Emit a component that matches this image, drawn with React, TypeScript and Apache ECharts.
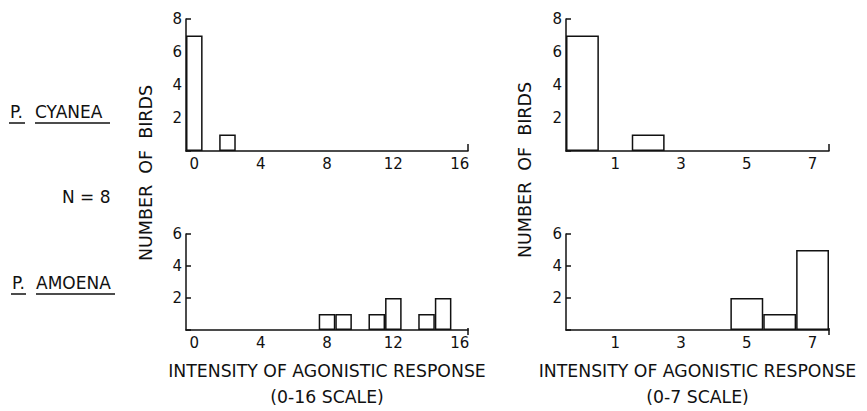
import React, { useEffect, useRef } from "react";
import * as echarts from "echarts";

// ---- data ----
const scale16 = [0, 1, 2, 3, 4, 5, 6, 7, 8, 9, 10, 11, 12, 13, 14, 15, 16];
const cyanea16 = [7, 0, 1, 0, 0, 0, 0, 0, 0, 0, 0, 0, 0, 0, 0, 0, 0];
const amoena16 = [0, 0, 0, 0, 0, 0, 0, 0, 1, 1, 0, 1, 2, 0, 1, 2, 0];
const labels16 = [0, 4, 8, 12, 16];

const scale7 = [0, 1, 2, 3, 4, 5, 6, 7];
const cyanea7 = [7, 0, 1, 0, 0, 0, 0, 0];
const amoena7 = [0, 0, 0, 0, 0, 2, 1, 5];
const labels7 = [1, 3, 5, 7];

const yMaxTop = 8;
const yMaxBottom = 6;
const yInterval = 2;

const xTitle16 = "INTENSITY OF AGONISTIC RESPONSE\n(0-16 SCALE)";
const xTitle7 = "INTENSITY OF AGONISTIC RESPONSE\n(0-7 SCALE)";
const yTitle = "NUMBER  OF  BIRDS";

const FONT = "DejaVu Sans";
const INK = "#111";

export default function App() {
  const ref = useRef<HTMLDivElement>(null);

  useEffect(() => {
    if (!ref.current) return;
    const chart = echarts.init(ref.current, undefined, { renderer: "svg" });

    const grids = [
      { left: 186, top: 19, width: 282, height: 132 },
      { left: 186, top: 234, width: 282, height: 101 },
      { left: 566, top: 19, width: 263, height: 132 },
      { left: 566, top: 234, width: 263, height: 101 },
    ];

    const mkX = (idx: number, cats: number[], shown: number[], name: string) => ({
      type: "category",
      gridIndex: idx,
      data: cats.map(String),
      boundaryGap: true,
      axisLine: { show: true, onZero: true, lineStyle: { color: INK, width: 1.5 } },
      axisTick: { show: false },
      axisLabel: {
        interval: (_i: number, v: string) => shown.includes(Number(v)),
        fontFamily: FONT,
        fontSize: 15,
        color: INK,
        margin: 5,
      },
      splitLine: { show: false },
      name,
      nameLocation: "middle",
      nameGap: name ? 28 : 0,
      nameTextStyle: {
        fontFamily: FONT,
        fontSize: 17.3,
        color: INK,
        lineHeight: 26,
        verticalAlign: "top",
      },
    });

    const mkY = (idx: number, max: number) => ({
      type: "value",
      gridIndex: idx,
      min: 0,
      max,
      interval: yInterval,
      axisLine: { show: true, lineStyle: { color: INK, width: 1.5 } },
      axisTick: { show: true, inside: true, length: 5, lineStyle: { color: INK, width: 1.5 } },
      axisLabel: {
        formatter: (v: number) => (v === 0 ? "" : String(v)),
        fontFamily: FONT,
        fontSize: 15,
        color: INK,
        margin: 4,
      },
      splitLine: { show: false },
    });

    const mkBar = (idx: number, vals: number[]) => ({
      type: "bar",
      xAxisIndex: idx,
      yAxisIndex: idx,
      data: vals.map((v) => (v === 0 ? null : v)),
      barCategoryGap: "0%",
      itemStyle: { color: "#fff", borderColor: INK, borderWidth: 1.5 },
      silent: true,
    });

    const txt = (x: number, y: number, text: string, extra: any = {}) => ({
      type: "text",
      x,
      y,
      ...extra,
      style: {
        text,
        fontFamily: FONT,
        fontSize: 17,
        fill: INK,
        textAlign: "left",
        textVerticalAlign: "middle",
        ...(extra.style || {}),
      },
    });
    const ln = (x1: number, y1: number, x2: number, y2: number) => ({
      type: "line",
      shape: { x1, y1, x2, y2 },
      style: { stroke: INK, lineWidth: 1.5 },
    });
    // small end tick at the right end of each x axis (decoration)
    const endTicks = grids.map((g) => {
      const x = g.left + g.width;
      const y = g.top + g.height;
      return ln(x, y, x, y - 7);
    });

    chart.setOption({
      animation: false,
      backgroundColor: "#fff",
      grid: grids,
      xAxis: [
        mkX(0, scale16, labels16, ""),
        mkX(1, scale16, labels16, xTitle16),
        mkX(2, scale7, labels7, ""),
        mkX(3, scale7, labels7, xTitle7),
      ],
      yAxis: [mkY(0, yMaxTop), mkY(1, yMaxBottom), mkY(2, yMaxTop), mkY(3, yMaxBottom)],
      series: [mkBar(0, cyanea16), mkBar(1, amoena16), mkBar(2, cyanea7), mkBar(3, amoena7)],
      graphic: [
        ...endTicks,
        txt(146, 173, yTitle, { rotation: Math.PI / 2, style: { textAlign: "center", fontSize: 17.5 } }),
        txt(525, 170, yTitle, { rotation: Math.PI / 2, style: { textAlign: "center", fontSize: 17.5 } }),
        txt(10, 112, "P."),
        txt(35, 112, "CYANEA"),
        ln(9, 123, 25, 123),
        ln(35, 123, 110, 123),
        txt(62, 197, "N = 8"),
        txt(12, 283, "P."),
        txt(36, 283, "AMOENA"),
        ln(11, 294, 26, 294),
        ln(36, 294, 115, 294),
      ],
    });

    return () => chart.dispose();
  }, []);

  return (
    <div
      ref={ref}
      style={{ position: "fixed", left: 0, top: 0, width: 867, height: 411, background: "#fff" }}
    />
  );
}
